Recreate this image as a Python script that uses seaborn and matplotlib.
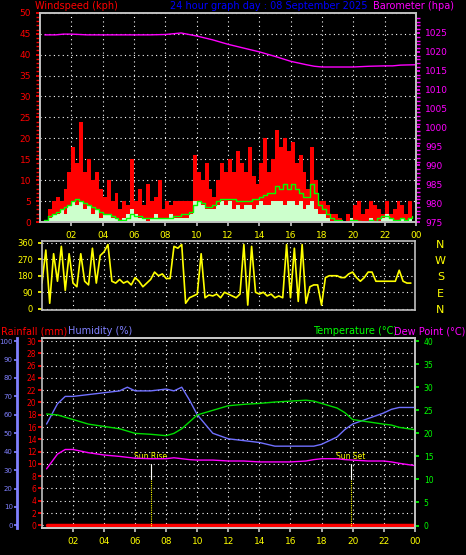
import numpy as np
import pandas as pd
import matplotlib
matplotlib.use("Agg")
import matplotlib.pyplot as plt
import seaborn as sns

sns.set_theme(style="dark")
plt.rcParams['font.family'] = ['DejaVu Sans']

# ---- data (quarter-hour resolution, hours 0..24) ----
gust = [0,0,3,5, 6,5,8,12, 18,14,24,12, 15,10,12,8, 6,10,5,7, 3,5,4,15,
        5,8,4,9, 5,6,10,3, 5,4,5,5, 5,5,5,16, 12,10,14,8, 6,10,14,12,
        15,12,17,14, 12,18,11,9, 14,20,12,15, 22,18,20,17, 19,14,16,12, 8,18,10,5,
        5,4,2,2, 1,0,2,1, 4,5,2,3, 5,4,3,2, 5,2,3,5, 4,2,5,3]
speed = [0,0,1,2, 2,3,2,4, 5,4,5,3, 4,2,3,1, 2,2,1,1, 0,1,2,3,
         2,1,1,0, 1,2,1,1, 1,2,1,1, 1,1,2,5, 5,4,3,3, 3,4,5,4,
         5,3,4,3, 4,4,3,4, 5,4,4,5, 5,5,4,5, 5,4,5,3, 4,5,3,2,
         2,1,0,0, 0,0,0,1, 0,0,0,0, 1,0,0,1, 2,1,0,0, 1,0,1,0]
avg = [0,0.5,1.5,2, 2.5,3,3.5,4, 5,5.5,5,4.5, 4,3.5,3,2.5, 2,2,1.5,1, 0.5,0.5,1,2,
       1.5,1.5,1,1, 1,1,1,1, 1,1,1.5,1.5, 2,2,2.5,4, 5,4.5,3.5,3.5, 4,5,5.5,5.5,
       5.5,5.5,5,5, 5,5,5.5,5.5, 6,6.5,7,7, 8.5,8,9,8, 9,8,7,6, 6,9,7,4,
       3,2,1,0.5, 0.5,0,0,0.5, 0.5,0.3,0,0, 0.5,0.3,1,1.5, 1.5,1,0.5,0.5, 1,0.5,1,1.5]
wdir = [140,320,30,300, 150,340,100,300, 140,120,300,150, 130,330,140,290, 310,350,150,140,
        160,140,150,130, 170,150,120,140, 160,200,180,190, 165,165,340,330, 350,30,60,70,
        80,300,60,75, 70,80,60,90, 80,70,60,80, 350,20,340,90, 80,90,70,80, 60,70,60,350,
        60,330,40,350, 30,120,130,130, 20,170,180,180, 180,170,170,190, 200,170,150,170,
        200,200,150,150, 150,150,150,150, 210,150,140,140]

# hourly-ish series
t_h = [0.3,1,1.5,2,3,4,5,5.5,6,7,8,8.5,9,9.5,10,11,12,13,14,15,16,17,17.5,18,19,19.5,20,21,22,22.5,23,24]
baro = [1024.5,1024.5,1024.7,1024.7,1024.5,1024.5,1024.5,1024.5,1024.5,1024.5,1024.6,1024.8,1025,1024.6,1024.2,
        1023.2,1022.0,1021.0,1020.0,1018.8,1017.5,1016.6,1016.2,1016.0,1016.0,1016.0,1016.0,1016.2,1016.3,1016.3,1016.5,1016.6]
hum = [55,66,70,70,71,72,73,75,73,73,74,73,75,68,60,50,47,46,45,43,43,43,43,44,48,52,55,58,61,63,64,64]
temp = [24.2,24,23.5,23,22,21.5,21,20.5,20,19.8,19.5,20,21,22.5,24,25,26,26.3,26.5,26.8,27,27.2,27,26.5,25.5,24.5,23,22.5,22,21.8,21.3,20.8]
dew = [12.3,15.5,16.5,16.5,15.8,15.3,15,14.8,14.6,14.5,14.5,14.7,14.5,14.3,14.2,14.2,14,14,13.8,13.8,13.8,14,14.3,14.5,14.5,14.3,14.2,14,14,13.8,13.5,13]
rain = [0.0]*len(t_h)

hour_labels = ["02","04","06","08","10","12","14","16","18","20","22","00"]
sunrise, sunset = 7.0, 19.9

tq = np.arange(len(gust)) * 0.25
wind = pd.DataFrame({"t": tq, "gust": gust, "speed": speed, "avg": avg, "dir": wdir})
day = pd.DataFrame({"t": t_h, "baro": baro, "hum": hum, "temp": temp, "dew": dew, "rain": rain})

fig = plt.figure(figsize=(4.66, 5.55), dpi=100, facecolor="black")
FS = 6.5
HF = 7

def style(ax, lc="#c0c0c0"):
    ax.set_facecolor("black")
    for s in ax.spines.values():
        s.set_color(lc)
        s.set_linewidth(1.2)
    ax.set_xlim(0, 24)
    ax.set_xticks(np.arange(2, 25, 2))
    ax.grid(True, color="white", linestyle=(0, (1, 3)), linewidth=0.8)
    ax.set_xlabel(""); ax.set_ylabel("")

# ---- top panel ----
ax1 = fig.add_axes([0.086, 0.60, 0.807, 0.377])
style(ax1)
ax1.fill_between(wind["t"], wind["gust"], step="post", color="red", linewidth=0)
ax1.fill_between(wind["t"], wind["speed"], step="post", color="#ccffcc", linewidth=0)
sns.lineplot(data=wind, x="t", y="avg", ax=ax1, color="#00ff00", linewidth=1, drawstyle="steps-post")
ax1.set_ylim(0, 50)
ax1.set_yticks(np.arange(0, 51, 5))
ax1.set_yticks(np.arange(0, 51, 1), minor=True)
ax1.tick_params(axis="y", colors="red", labelsize=FS, length=3, which="both", left=True)
ax1.tick_params(axis="x", colors="#c0c0c0", labelcolor="yellow", labelsize=FS, bottom=True, length=3)
ax1.set_xticklabels(hour_labels)
ax1.set_xlabel(""); ax1.set_ylabel("")
ax1b = ax1.twinx()
sns.lineplot(data=day, x="t", y="baro", ax=ax1b, color="magenta", linewidth=1)
ax1b.set_ylim(975, 975 + 207 / 3.74)
ax1b.set_yticks(np.arange(975, 1026, 5))
ax1b.set_yticks(np.arange(975, 1030, 1), minor=True)
ax1b.tick_params(axis="y", colors="magenta", labelsize=FS, length=3, which="both", right=True)
ax1b.set_ylabel(""); ax1b.grid(False)
for s in ax1b.spines.values():
    s.set_color("#c0c0c0")

fig.text(0.075, 0.999, "Windspeed (kph)", color="red", fontsize=HF, va="top")
fig.text(0.365, 0.999, "24 hour graph day : 08 September 2025", color="blue", fontsize=HF, va="top")
fig.text(0.80, 0.999, "Barometer (hpa)", color="magenta", fontsize=HF, va="top")

# ---- middle panel ----
ax2 = fig.add_axes([0.09, 0.441, 0.80, 0.125])
style(ax2)
sns.lineplot(data=wind, x="t", y="dir", ax=ax2, color="yellow", linewidth=1.2)
ax2.set_ylim(-8, 370)
ax2.set_yticks([0, 90, 180, 270, 360])
ax2.tick_params(axis="y", colors="yellow", labelsize=FS - 0.5, length=3, left=True)
ax2.tick_params(axis="x", bottom=False, labelbottom=False)
ax2.set_xlabel(""); ax2.set_ylabel("")
for i, lab in enumerate(["N", "W", "S", "E", "N"]):
    fig.text(0.945, 0.558 - i * 0.029, lab, color="yellow", fontsize=HF + 1, va="center", ha="center")

# ---- bottom panel ----
ax3 = fig.add_axes([0.09, 0.049, 0.80, 0.342])
style(ax3)
sns.lineplot(data=day, x="t", y="rain", ax=ax3, color="red", linewidth=2.5)
ax3.set_ylim(-0.4, 30.5)
ax3.set_yticks(np.arange(0, 31, 2))
ax3.tick_params(axis="y", colors="red", labelsize=FS - 1, length=3, left=True, pad=1)
ax3.tick_params(axis="x", colors="#c0c0c0", labelcolor="yellow", labelsize=FS, bottom=True, length=3)
ax3.set_xticklabels(hour_labels)
ax3.set_xlabel(""); ax3.set_ylabel("")

ax3h = ax3.twinx()
ax3h.spines["right"].set_visible(False)
ax3h.spines["left"].set_visible(True)
ax3h.spines["left"].set_position(("outward", 18))
ax3h.spines["left"].set_color("#8080ff")
ax3h.spines["left"].set_linewidth(2)
ax3h.yaxis.set_label_position("left"); ax3h.yaxis.set_ticks_position("left")
sns.lineplot(data=day, x="t", y="hum", ax=ax3h, color="#7070ff", linewidth=1)
ax3h.set_ylim(-1.3, 101.7)
ax3h.set_yticks(np.arange(0, 101, 10))
ax3h.tick_params(axis="y", colors="#8080ff", labelsize=FS - 1.5, length=2, pad=1)
ax3h.set_ylabel(""); ax3h.grid(False)

ax3t = ax3.twinx()
sns.lineplot(data=day, x="t", y="temp", ax=ax3t, color="#00dd00", linewidth=1)
sns.lineplot(data=day, x="t", y="dew", ax=ax3t, color="magenta", linewidth=1)
ax3t.set_ylim(-0.5, 40.7)
ax3t.set_yticks(np.arange(0, 41, 5))
ax3t.tick_params(axis="y", colors="#00ff00", labelsize=FS - 1, length=3)
ax3t.set_ylabel(""); ax3t.grid(False)
for s in ax3t.spines.values():
    s.set_color("#c0c0c0")
ax3t.spines["left"].set_visible(False)

for x, lab in [(sunrise, "Sun Rise"), (sunset, "Sun Set")]:
    ax3.plot([x, x], [-0.4, 10], color="yellow", linestyle=(0, (1, 1)), linewidth=0.8)
    ax3.plot([x, x], [7.5, 10], color="white", linewidth=0.8)
    ax3.text(x, 10.5, lab, color="yellow", fontsize=FS - 1, ha="center", va="bottom")

fig.text(0.003, 0.394, "Rainfall (mm)", color="red", fontsize=HF, va="bottom")
fig.text(0.145, 0.394, "Humidity (%)", color="#8080ff", fontsize=HF, va="bottom")
fig.text(0.672, 0.394, "Temperature (°C)", color="#00ff00", fontsize=HF, va="bottom")
fig.text(0.845, 0.394, "Dew Point (°C)", color="magenta", fontsize=HF, va="bottom")

fig.savefig("out.png", dpi=100, facecolor="black")
